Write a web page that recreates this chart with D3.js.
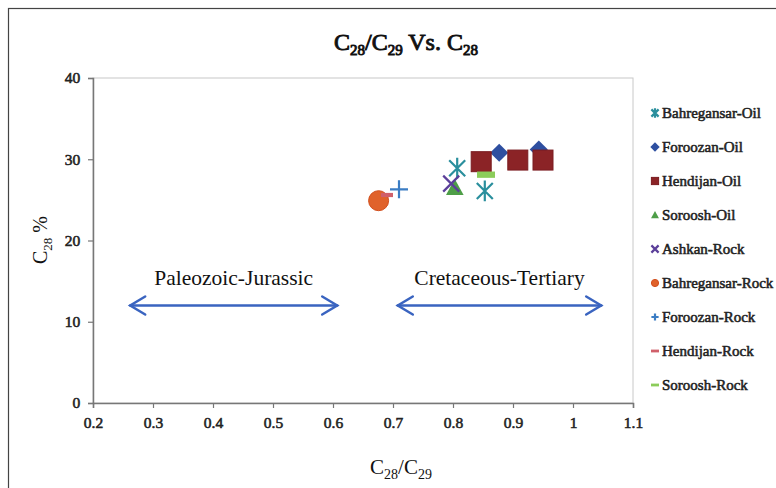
<!DOCTYPE html>
<html>
<head>
<meta charset="utf-8">
<script src="https://cdn.jsdelivr.net/npm/d3@7"></script>
<style>
  body { margin: 0; background: #fff; }
  svg text { font-family: "Liberation Serif", "Times New Roman", serif !important; font-weight: normal !important; }
  .fauxbold { stroke-width: 0.55px; paint-order: stroke; }
</style>
</head>
<body>
<svg width="776" height="488"></svg>
<script>
const xTicks = [0.2, 0.3, 0.4, 0.5, 0.6, 0.7, 0.8, 0.9, 1, 1.1];
const yTicks = [0, 10, 20, 30, 40];

const seriesNames = ["Bahregansar-Oil", "Foroozan-Oil", "Hendijan-Oil", "Soroosh-Oil",
  "Ashkan-Rock", "Bahregansar-Rock", "Foroozan-Rock", "Hendijan-Rock", "Soroosh-Rock"];
const seriesColors = ["#2a8f9d", "#2e4fa0", "#8b2326", "#4e9e48", "#5b3f9a",
  "#e0622b", "#3b7dc4", "#d0606a", "#8ccc5a"];
const seriesShapes = ["asterisk", "diamond", "square", "triangle", "cross",
  "circle", "plus", "dash", "dash"];

// [x, y] points per series
const bahregansarOil = [[0.807, 28.9], [0.853, 26.1]];
const foroozanOil = [[0.877, 30.8], [0.943, 31.2]];
const hendijanOil = [[0.847, 29.7], [0.908, 29.9], [0.950, 29.9]];
const sorooshOil = [[0.803, 26.5]];
const ashkanRock = [[0.797, 27.0]];
const bahregansarRock = [[0.676, 24.9]];
const foroozanRock = [[0.710, 26.3]];
const hendijanRock = [[0.690, 25.6]];
const sorooshRock = [[0.855, 28.1]];
const seriesData = [bahregansarOil, foroozanOil, hendijanOil, sorooshOil,
  ashkanRock, bahregansarRock, foroozanRock, hendijanRock, sorooshRock];

// age-range annotations: [x0, x1, y, label]
const ranges = [[0.262, 0.607, 12, "Paleozoic-Jurassic"], [0.708, 1.047, 12, "Cretaceous-Tertiary"]];

const svg = d3.select("svg");
const margin = { left: 93, right: 143, top: 78, bottom: 85 };
const W = 776, H = 488;

const x = d3.scaleLinear().domain([0.2, 1.1]).range([margin.left, W - margin.right]);
const y = d3.scaleLinear().domain([0, 40]).range([H - margin.bottom, margin.top]);

// outer frame
svg.append("rect").attr("x", 8.5).attr("y", 8.5).attr("width", 800).attr("height", 500)
  .attr("fill", "none").attr("stroke", "#444").attr("stroke-width", 1.2);

// plot border
svg.append("rect")
  .attr("x", x(0.2)).attr("y", y(40))
  .attr("width", x(1.1) - x(0.2)).attr("height", y(0) - y(40))
  .attr("fill", "none").attr("stroke", "#c8c8c8");

const xAxis = svg.append("g").attr("transform", `translate(0,${y(0)})`)
  .call(d3.axisBottom(x).tickValues(xTicks).tickSize(5).tickFormat(d3.format("~g")));
const yAxis = svg.append("g").attr("transform", `translate(${x(0.2)},0)`)
  .call(d3.axisLeft(y).tickValues(yTicks).tickSize(5));

[xAxis, yAxis].forEach(g => {
  g.attr("font-family", null).attr("font-size", null);
  g.select(".domain").attr("stroke", "#777").attr("stroke-width", 1.5);
  g.selectAll(".tick line").attr("stroke", "#777").attr("stroke-width", 1.2);
  g.selectAll("text").attr("font-size", 15.5).attr("class", "fauxbold")
    .attr("fill", "#222").attr("stroke", "#222");
});
xAxis.selectAll("text").attr("dy", "1.1em");
yAxis.selectAll("text").attr("dx", "-0.3em");

// title
const title = svg.append("text").attr("x", 406).attr("y", 50).attr("text-anchor", "middle")
  .attr("font-size", 24).attr("class", "fauxbold").attr("fill", "#111").attr("stroke", "#111")
  .style("stroke-width", "0.9px");
title.append("tspan").text("C");
title.append("tspan").attr("font-size", 15).attr("dy", 5).text("28");
title.append("tspan").attr("dy", -5).text("/C");
title.append("tspan").attr("font-size", 15).attr("dy", 5).text("29");
title.append("tspan").attr("dy", -5).text(" Vs. C");
title.append("tspan").attr("font-size", 15).attr("dy", 5).text("28");

// x label
const xl = svg.append("text").attr("x", 401).attr("y", 474).attr("text-anchor", "middle")
  .attr("font-size", 21).attr("fill", "#111");
xl.append("tspan").text("C");
xl.append("tspan").attr("font-size", 14).attr("dy", 5).text("28");
xl.append("tspan").attr("dy", -5).text("/C");
xl.append("tspan").attr("font-size", 14).attr("dy", 5).text("29");

// y label
const yl = svg.append("text").attr("transform", "translate(47,240) rotate(-90)")
  .attr("text-anchor", "middle").attr("font-size", 20).attr("fill", "#111");
yl.append("tspan").text("C");
yl.append("tspan").attr("font-size", 13).attr("dy", 5).text("28");
yl.append("tspan").attr("dy", -5).text(" %");

// range arrows
const arrowColor = "#3a64c0";
ranges.forEach(([x0, x1, yv, label]) => {
  const g = svg.append("g").attr("stroke", arrowColor).attr("stroke-width", 2.5)
    .attr("fill", "none").attr("stroke-linecap", "round");
  const a = x(x0), b = x(x1), yy = y(yv);
  g.append("line").attr("x1", a).attr("x2", b).attr("y1", yy).attr("y2", yy);
  g.append("path").attr("d", `M${a + 15},${yy - 9}L${a},${yy}L${a + 15},${yy + 9}`);
  g.append("path").attr("d", `M${b - 15},${yy - 9}L${b},${yy}L${b - 15},${yy + 9}`);
  svg.append("text").attr("x", (a + b) / 2).attr("y", yy - 21).attr("text-anchor", "middle")
    .attr("font-size", 21.5).attr("fill", "#111").text(label);
});

// marker drawing
function drawMarker(g, shape, color, s) {
  if (shape === "asterisk") {
    g.append("path").attr("d", `M${-s},${-s}L${s},${s}M${-s},${s}L${s},${-s}M0,${-s * 1.3}L0,${s * 1.3}`)
      .attr("stroke", color).attr("stroke-width", 2.2);
  } else if (shape === "diamond") {
    g.append("path").attr("d", `M0,${-s * 1.3}L${s * 1.3},0L0,${s * 1.3}L${-s * 1.3},0Z`).attr("fill", color);
  } else if (shape === "square") {
    g.append("rect").attr("x", -s).attr("y", -s).attr("width", 2 * s).attr("height", 2 * s)
      .attr("fill", color).attr("stroke", "#7a1c20");
  } else if (shape === "triangle") {
    g.append("path").attr("d", `M0,${-s * 1.1}L${s * 1.1},${s * 0.9}L${-s * 1.1},${s * 0.9}Z`).attr("fill", color);
  } else if (shape === "cross") {
    g.append("path").attr("d", `M${-s},${-s}L${s},${s}M${-s},${s}L${s},${-s}`)
      .attr("stroke", color).attr("stroke-width", 2.2);
  } else if (shape === "circle") {
    g.append("circle").attr("r", s).attr("fill", color).attr("stroke", "#d24e1c");
  } else if (shape === "plus") {
    g.append("path").attr("d", `M${-s},0L${s},0M0,${-s}L0,${s}`)
      .attr("stroke", color).attr("stroke-width", 2.2);
  } else if (shape === "dash") {
    g.append("rect").attr("x", -s).attr("y", -s * 0.35).attr("width", 2 * s).attr("height", s * 0.7)
      .attr("fill", color);
  }
}

const plotSizes = [8, 7, 10, 8, 8, 10, 9, 6, 9];
seriesData.forEach((pts, i) => {
  svg.append("g").selectAll("g").data(pts).enter().append("g")
    .attr("transform", d => `translate(${x(d[0])},${y(d[1])})`)
    .each(function () { drawMarker(d3.select(this), seriesShapes[i], seriesColors[i], plotSizes[i]); });
});

// legend
const legend = svg.append("g");
seriesNames.forEach((name, i) => {
  const ly = 113 + i * 34;
  const g = legend.append("g").attr("transform", `translate(655,${ly})`);
  drawMarker(g, seriesShapes[i], seriesColors[i], seriesShapes[i] === "dash" ? 4 : 3.6);
  legend.append("text").attr("x", 662).attr("y", ly + 5).attr("font-size", 15)
    .attr("class", "fauxbold").attr("fill", "#222").attr("stroke", "#222").text(name);
});
</script>
</body>
</html>
